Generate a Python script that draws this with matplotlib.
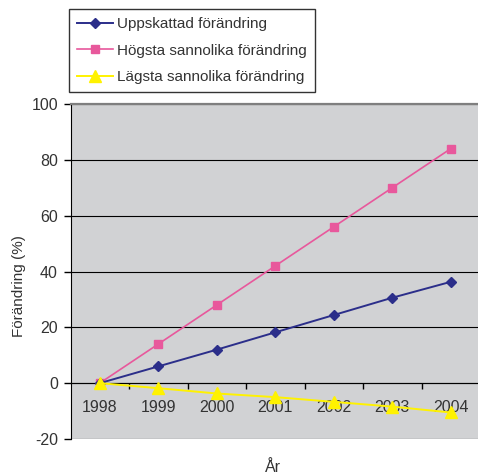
import numpy as np
import matplotlib.pyplot as plt

plt.rcParams['font.family'] = ['Liberation Sans', 'DejaVu Sans']
plt.rcParams['axes.unicode_minus'] = False

# Data
years = ['1998', '1999', '2000', '2001', '2002', '2003', '2004']
uppskattad = [0, 6, 12, 18.2, 24.4, 30.6, 36.3]
hogsta = [0, 14, 28, 42, 56, 70, 84]
lagsta = [0, -1.8, -3.7, -5, -6.7, -8.4, -10.5]

W, H = 478, 475
fig = plt.figure(figsize=(W / 100, H / 100), dpi=100)
ax = fig.add_axes([70.5 / W, (H - 439) / H, (480 - 70.5) / W, (439 - 104) / H])
ax.set_facecolor('#D1D2D4')

x = np.arange(len(years))
txt = '#333333'

l1, = ax.plot(x, uppskattad, color='#2B2E8A', lw=1.4, marker='D', ms=5.5,
              label='Uppskattad förändring', zorder=5)
l2, = ax.plot(x, hogsta, color='#E8589C', lw=1.2, marker='s', ms=6,
              label='Högsta sannolika förändring', zorder=4)
l3, = ax.plot(x, lagsta, color='#FFF200', lw=1.4, marker='^', ms=8,
              label='Lägsta sannolika förändring', zorder=6)

ax.set_xlim(-0.5, len(years) - 0.5)
ax.set_ylim(-20, 100)
ax.set_yticks(np.arange(-20, 101, 20))
ax.yaxis.grid(True, color='black', lw=0.8)
ax.set_axisbelow(True)

# x axis crosses at 0
ax.spines['bottom'].set_position(('data', 0))
ax.spines['bottom'].set_color('black')
ax.spines['bottom'].set_zorder(3)
ax.spines['left'].set_color('black')
ax.spines['right'].set_visible(False)
ax.spines['top'].set_color('#7F7F7F')
ax.spines['top'].set_linewidth(1.6)

ax.set_xticks(x[:-1] + 0.5)
ax.set_xticklabels([])
ax.set_xticks(x, minor=True)
ax.set_xticklabels(years, minor=True)
ax.tick_params(axis='x', which='major', direction='out', length=4, width=1, color='black')
ax.tick_params(axis='x', which='minor', length=0, pad=12, labelsize=11.5, labelcolor=txt)
ax.tick_params(axis='y', direction='out', length=5, width=1, pad=4, labelsize=11.5,
               labelcolor=txt)

ax.set_ylabel('Förändring (%)', fontsize=11, color=txt)
ax.yaxis.set_label_coords(-0.108, 0.457)
fig.text(273 / W, 1 - 467 / H, 'År', ha='center', va='center', fontsize=11.5, color=txt)

leg = fig.legend(handles=[l1, l2, l3], loc='upper left',
                 bbox_to_anchor=(69 / W, 1 - 9 / H), fontsize=11,
                 frameon=True, fancybox=False, edgecolor='black',
                 handlelength=2.3, handletextpad=0.3, labelspacing=0.8,
                 borderpad=0.55, borderaxespad=0)
leg.get_frame().set_linewidth(1.0)
for t in leg.get_texts():
    t.set_color(txt)

fig.savefig('out.png', dpi=100)
